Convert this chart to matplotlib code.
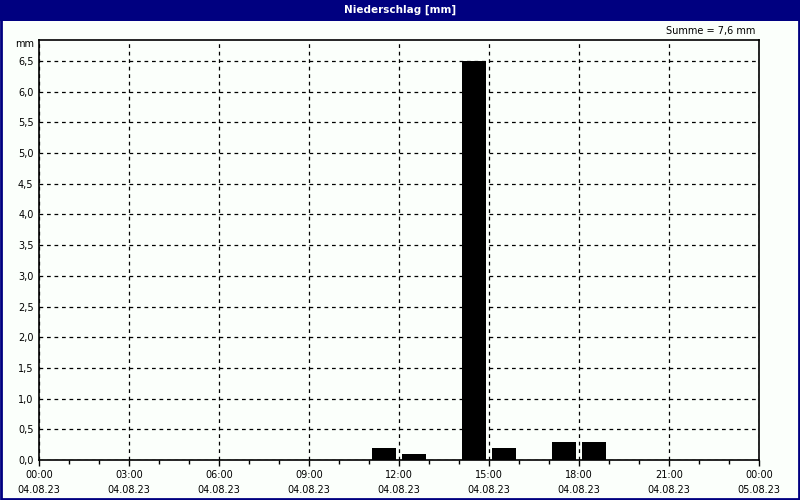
import matplotlib
matplotlib.use("Agg")
import matplotlib.pyplot as plt
import matplotlib.patches as mpatches
import numpy as np

# hourly precipitation (hour start, mm)
hours = [11, 12, 14, 15, 17, 18]
values = [0.2, 0.1, 6.5, 0.2, 0.3, 0.3]
tick_hours = [0, 3, 6, 9, 12, 15, 18, 21, 24]
tick_times = ["00:00", "03:00", "06:00", "09:00", "12:00", "15:00", "18:00", "21:00", "00:00"]
tick_dates = ["04.08.23"] * 8 + ["05.08.23"]
y_ticks = np.arange(0, 6.51, 0.5)

navy = "#000080"
bg = "#fbfffb"

fig = plt.figure(figsize=(8, 5), dpi=100, facecolor=bg)

# title bar and border
fig.patches.append(mpatches.Rectangle((0, 1 - 21/500), 1, 21/500, transform=fig.transFigure,
                                      facecolor=navy, edgecolor="none", zorder=0))
fig.patches.append(mpatches.Rectangle((1/800, 1/500), 1 - 2/800, 1 - 2/500, transform=fig.transFigure,
                                      facecolor="none", edgecolor=navy, linewidth=2, zorder=5))
fig.text(0.5, 1 - 10/500, "Niederschlag [mm]", color="white", fontsize=7.5, fontweight="bold",
         ha="center", va="center")

ax = fig.add_axes([39/800, 40/500, 720/800, 420/500])
ax.set_facecolor(bg)
ax.bar(np.array(hours) + 0.5, values, width=0.8, color="black", zorder=3)

ax.set_xlim(0, 24)
ax.set_ylim(0, 6.5 + 21/61.4)
ax.set_xticks(tick_hours)
ax.set_xticklabels(tick_times, fontsize=7)
ax.set_xticks(range(25), minor=True)
for h, d in zip(tick_hours, tick_dates):
    ax.text(h, -30/420, d, fontsize=7, ha="center", va="center",
            transform=ax.get_xaxis_transform())
ax.set_yticks(y_ticks)
ax.set_yticklabels([("%.1f" % v).replace(".", ",") for v in y_ticks], fontsize=7)
ax.tick_params(axis="x", which="major", direction="out", length=4, width=1, pad=3)
ax.tick_params(axis="x", which="minor", direction="out", length=3, width=1)
ax.tick_params(axis="y", length=0, pad=4)
ax.grid(True, which="major", color="black", linestyle=(0, (3, 3)), linewidth=0.9, zorder=1)
for s in ax.spines.values():
    s.set_linewidth(1.2)
    s.set_color("black")

fig.text(39/800 - 5/800, 1 - 44/500, "mm", fontsize=7, ha="right", va="center")
fig.text(755/800, 1 - 31/500, "Summe = 7,6 mm", fontsize=7, ha="right", va="center")

fig.savefig("out.png", dpi=100, facecolor=bg)
